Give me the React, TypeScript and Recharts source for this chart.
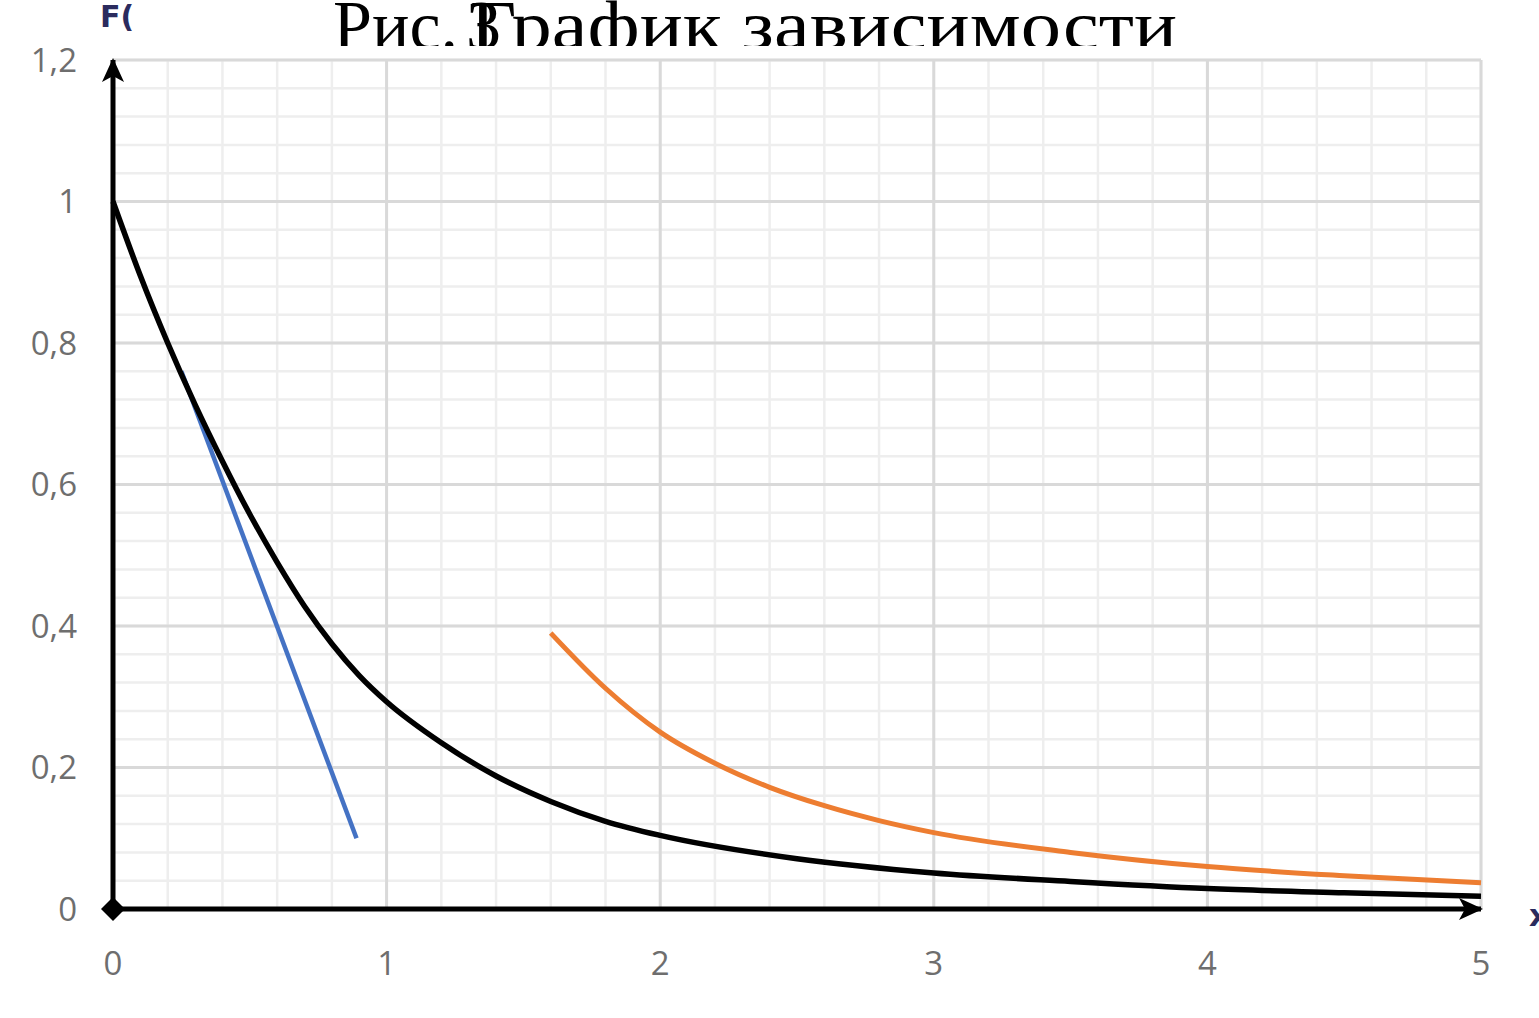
import {
  CartesianGrid,
  Line,
  LineChart,
  ReferenceDot,
  XAxis,
  YAxis,
} from "recharts";

// curves
const BLACK_X = [0, 0.1, 0.2, 0.3, 0.4, 0.5, 0.6, 0.7, 0.8, 0.9, 1.0, 1.2, 1.4, 1.6, 1.8, 2.0, 2.5, 3.0, 3.5, 4.0, 4.5, 5.0];
const BLACK_Y = [1, 0.895, 0.8, 0.713, 0.633, 0.558, 0.49, 0.428, 0.375, 0.33, 0.293, 0.235, 0.188, 0.152, 0.124, 0.104, 0.071, 0.051, 0.039, 0.029, 0.023, 0.018];

const BLUE_X = [0.25, 0.89];
const BLUE_Y = [0.76, 0.1];

const ORANGE_X = [1.6, 1.8, 2.0, 2.2, 2.4, 2.6, 2.8, 3.0, 3.5, 4.0, 4.5, 5.0];
const ORANGE_Y = [0.39, 0.312, 0.25, 0.206, 0.172, 0.146, 0.125, 0.108, 0.08, 0.06, 0.047, 0.037];

const X_TICKS = [0, 1, 2, 3, 4, 5];
const Y_TICKS = [0, 0.2, 0.4, 0.6, 0.8, 1, 1.2];

const TITLE_LEFT = "Рис.";
const TITLE_NUM = "3";
const TITLE_RIGHT = "График зависимости";

const zip = (xs: number[], ys: number[]) => xs.map((x, i) => ({ x, y: ys[i] }));
const black = zip(BLACK_X, BLACK_Y);
const blue = zip(BLUE_X, BLUE_Y);
const orange = zip(ORANGE_X, ORANGE_Y);

// grid steps: minor 0.2 on x, 0.04 on y
const minorX = Array.from({ length: 26 }, (_, i) => +(i * 0.2).toFixed(2));
const minorY = Array.from({ length: 31 }, (_, i) => +(i * 0.04).toFixed(2));

const fmtY = (v: number) => String(+v.toFixed(1)).replace(".", ",");

const tickStyle = { fill: "#6e6e6e", fontSize: 33, fontFamily: "'Open Sans', sans-serif" };

function Diamond({ cx, cy }: { cx?: number; cy?: number }) {
  if (cx == null || cy == null) return null;
  const r = 12;
  return <path d={`M${cx - r},${cy} L${cx},${cy - r} L${cx + r},${cy} L${cx},${cy + r} Z`} fill="#000" />;
}

export default function App() {
  return (
    <div style={{ position: "relative", width: 1539, height: 1018, background: "#fff" }}>
      <style>{`body{margin:0;}`}</style>
      <LineChart
        width={1539}
        height={1018}
        margin={{ top: 60, right: 58, left: 0, bottom: 0 }}
      >
        <CartesianGrid
          verticalValues={minorX}
          horizontalValues={minorY}
          stroke="#eeeeee"
          strokeWidth={2.5}
        />
        <CartesianGrid
          verticalValues={X_TICKS}
          horizontalValues={Y_TICKS}
          stroke="#d9d9d9"
          strokeWidth={3}
        />
        <XAxis
          dataKey="x"
          type="number"
          domain={[0, 5]}
          ticks={X_TICKS}
          height={109}
          tickSize={0}
          tickMargin={43}
          tick={tickStyle}
          axisLine={{ stroke: "#000", strokeWidth: 5, markerEnd: "url(#arrowHead)" }}
          tickLine={false}
          allowDuplicatedCategory={false}
        />
        <YAxis
          type="number"
          domain={[0, 1.2]}
          ticks={Y_TICKS}
          width={113}
          tickSize={0}
          tickMargin={36}
          tick={tickStyle}
          tickFormatter={fmtY}
          axisLine={{ stroke: "#000", strokeWidth: 5, markerStart: "url(#arrowHead)" }}
          tickLine={false}
        />
        <Line
          data={blue}
          dataKey="y"
          type="linear"
          stroke="#4472c4"
          strokeWidth={4.5}
          dot={false}
          activeDot={false}
          isAnimationActive={false}
        />
        <Line
          data={orange}
          dataKey="y"
          type="monotone"
          stroke="#ed7d31"
          strokeWidth={5}
          dot={false}
          activeDot={false}
          isAnimationActive={false}
        />
        <Line
          data={black}
          dataKey="y"
          type="monotone"
          stroke="#000"
          strokeWidth={5.5}
          dot={false}
          activeDot={false}
          isAnimationActive={false}
        />
        <ReferenceDot x={0} y={0} r={12} shape={<Diamond />} />
      </LineChart>
      <svg
        width={1539}
        height={1018}
        style={{ position: "absolute", left: 0, top: 0, pointerEvents: "none" }}
      >
        <defs>
          <marker
            id="arrowHead"
            markerUnits="userSpaceOnUse"
            markerWidth={30}
            markerHeight={26}
            refX={22}
            refY={11}
            orient="auto-start-reverse"
            style={{ overflow: "visible" }}
          >
            <path d="M24,11 L0,0 L6,11 L0,22 Z" fill="#000" />
          </marker>
          <clipPath id="titleClip">
            <rect x={0} y={0} width={1539} height={46} />
          </clipPath>
        </defs>
        <g clipPath="url(#titleClip)" fontFamily="'Liberation Serif', serif" fontSize={70} fill="#000">
          <text x={333} y={49}>{TITLE_LEFT}</text>
          <text x={466} y={49}>{TITLE_NUM}</text>
          <text x={470} y={49} textLength={707} lengthAdjust="spacingAndGlyphs">{TITLE_RIGHT}</text>
        </g>
        <text x={100} y={27} fontFamily="'DejaVu Sans', sans-serif" fontSize={30} fontWeight="bold" fill="#2b2b5e">F(</text>
        <text x={1529} y={926} fontFamily="'DejaVu Sans', sans-serif" fontSize={30} fontWeight="bold" fill="#2b2b5e">x</text>
      </svg>
    </div>
  );
}
